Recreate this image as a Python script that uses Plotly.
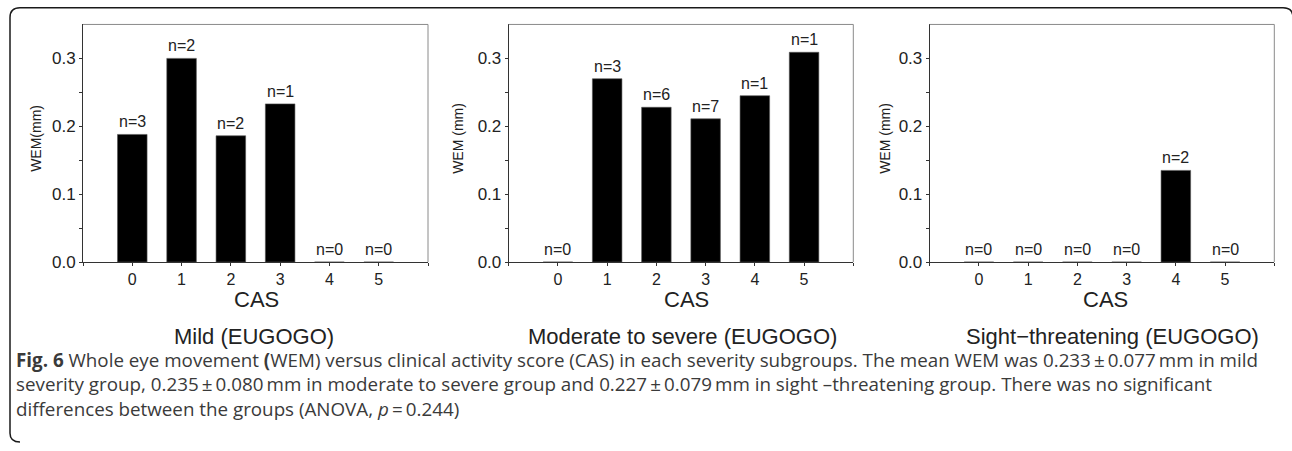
import plotly.graph_objects as go

W, H = 1292, 451

# ---------------- data ----------------
cas = [0, 1, 2, 3, 4, 5]
mild_wem = [0.188, 0.300, 0.186, 0.233, 0.0, 0.0]
mild_n = [3, 2, 2, 1, 0, 0]
mod_wem = [0.0, 0.270, 0.228, 0.211, 0.245, 0.309]
mod_n = [0, 3, 6, 7, 1, 1]
sight_wem = [0.0, 0.0, 0.0, 0.0, 0.135, 0.0]
sight_n = [0, 0, 0, 0, 2, 0]

panel_titles = ["Mild (EUGOGO)", "Moderate to severe (EUGOGO)", "Sight\u2212threatening (EUGOGO)"]
y_titles = ["WEM(mm)", "WEM (mm)", "WEM (mm)"]
x_title = "CAS"
y_tickvals = [0.0, 0.1, 0.2, 0.3]
y_ticktext = ["0.0", "0.1", "0.2", "0.3"]
y_minor = [0.05, 0.15, 0.25]
x_tickvals = [-1, 0, 1, 2, 3, 4, 5, 6]
x_ticktext = ["", "0", "1", "2", "3", "4", "5", ""]

caption_lines = [
    "<b>Fig. 6</b> Whole eye movement <b>(</b>WEM) versus clinical activity score (CAS) in each severity subgroups. "
    "The mean WEM was 0.233\u2009\u00b1\u20090.077\u2009mm in mild",
    "severity group, 0.235\u2009\u00b1\u20090.080\u2009mm in moderate to severe group and 0.227\u2009\u00b1\u20090.079\u2009mm "
    "in sight \u2013threatening group. There was no significant",
    "differences between the groups (ANOVA, <i>p</i>\u2009=\u20090.244)",
]

series = [(mild_wem, mild_n), (mod_wem, mod_n), (sight_wem, sight_n)]

# ---------------- layout geometry (pixels) ----------------
panel_x = [(83, 428), (508.7, 853.3), (929.7, 1274.3)]
panel_top, panel_bottom = 25, 268
ytitle_x = [36, 458, 885]
cas_x = [256.7, 686.7, 1105]
sub_x = [254, 682, 1112]


def px(x):
    return x / W


def py(y):
    return 1 - y / H


FONT = "Liberation Sans, Arial, sans-serif"
TXT = "#222222"
AX = "#333333"

fig = go.Figure()
annotations = []
shapes = []
layout = {}

for i, ((vals, ns), (x0, x1)) in enumerate(zip(series, panel_x)):
    k = "" if i == 0 else str(i + 1)
    xa, ya = "x" + k, "y" + k
    fig.add_trace(go.Bar(
        x=cas, y=vals, width=0.6, xaxis=xa, yaxis=ya,
        marker=dict(color="black", line=dict(width=0.6, color="#555555")),
        showlegend=False, hoverinfo="skip",
    ))
    layout["xaxis" + k] = dict(
        domain=[px(x0), px(x1)], anchor=ya, range=[-1, 6],
        tickmode="array", tickvals=x_tickvals, ticktext=x_ticktext,
        ticks="outside", ticklen=3, tickcolor=AX, tickwidth=1,
        showline=True, linecolor=AX, linewidth=1, mirror=False,
        showgrid=False, zeroline=False, fixedrange=True,
        tickfont=dict(family=FONT, size=16, color=TXT),
    )
    layout["yaxis" + k] = dict(
        domain=[py(panel_bottom), py(panel_top)], anchor=xa, range=[0, 0.35],
        tickmode="array", tickvals=y_tickvals, ticktext=y_ticktext,
        ticks="outside", ticklen=3, tickcolor=AX, tickwidth=1,
        minor=dict(tickvals=y_minor, ticks="outside", ticklen=3, tickcolor=AX, tickwidth=1, showgrid=False),
        showline=True, linecolor=AX, linewidth=1, mirror=False,
        showgrid=False, zeroline=False, fixedrange=True,
        tickfont=dict(family=FONT, size=17, color=TXT),
    )
    # gray top/right frame
    shapes.append(dict(type="line", xref=xa + " domain", yref=ya + " domain",
                       x0=0, x1=1, y0=1, y1=1, line=dict(color="#8a8a8a", width=1)))
    shapes.append(dict(type="line", xref=xa + " domain", yref=ya + " domain",
                       x0=1, x1=1, y0=0, y1=1, line=dict(color="#8a8a8a", width=1)))
    # n labels
    for c, v, n in zip(cas, vals, ns):
        annotations.append(dict(
            xref=xa, yref=ya, x=c, y=v, text="n=%d" % n, showarrow=False,
            yanchor="bottom", yshift=2, font=dict(family=FONT, size=16, color=TXT),
        ))
    # y title
    annotations.append(dict(
        xref="paper", yref="paper", x=px(ytitle_x[i]), y=py(142), text=y_titles[i],
        textangle=-90, showarrow=False, xanchor="center", yanchor="middle",
        font=dict(family=FONT, size=14, color=TXT),
    ))
    # x title
    annotations.append(dict(
        xref="paper", yref="paper", x=px(cas_x[i]), y=py(306), text=x_title,
        showarrow=False, xanchor="center", yanchor="middle",
        font=dict(family=FONT, size=22, color=TXT),
    ))
    # panel subtitle
    annotations.append(dict(
        xref="paper", yref="paper", x=px(sub_x[i]), y=py(344), text=panel_titles[i],
        showarrow=False, xanchor="center", yanchor="middle",
        font=dict(family=FONT, size=22, color=TXT),
    ))

# caption
cap_y = [368, 393, 418]
for line, yy in zip(caption_lines, cap_y):
    annotations.append(dict(
        xref="paper", yref="paper", x=px(14), y=py(yy), text=line,
        showarrow=False, xanchor="left", yanchor="middle", align="left",
        font=dict(family="Open Sans, Liberation Sans, sans-serif", size=18.8, color="#3a3a3a"),
    ))

# outer rounded border
border = (
    f"M {px(20)},{py(452)} Q {px(10)},{py(452)} {px(10)},{py(443)} "
    f"L {px(10)},{py(18)} Q {px(10)},{py(8)} {px(20)},{py(8)} "
    f"L {px(1283)},{py(8)} Q {px(1293)},{py(8)} {px(1293)},{py(18)} L {px(1293)},{py(460)}"
)
shapes.append(dict(type="path", xref="paper", yref="paper", path=border,
                   line=dict(color="#1a1a1a", width=1.5)))

fig.update_layout(
    width=W, height=H, margin=dict(l=0, r=0, t=0, b=0),
    paper_bgcolor="white", plot_bgcolor="white",
    annotations=annotations, shapes=shapes, bargap=0.4,
    **layout,
)

fig.write_html("out.html")
